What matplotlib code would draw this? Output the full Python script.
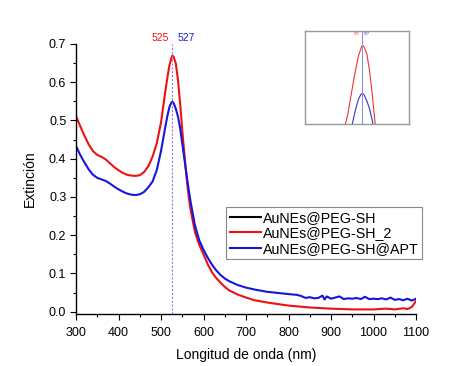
import matplotlib
matplotlib.use("Agg")
import matplotlib.pyplot as plt
from matplotlib.ticker import MultipleLocator

plt.rcParams['font.family'] = ['Liberation Sans', 'DejaVu Sans']

# ---- data ----
wl_red = [300, 310, 320, 330, 340, 350, 360, 370, 380, 390, 400, 410, 420, 430, 440,
          450, 460, 470, 480, 490, 500, 510, 515, 520, 525, 527, 530, 535, 540, 545,
          550, 555, 560, 565, 570, 580, 590, 600, 610, 620, 630, 640, 650, 660, 680,
          700, 720, 750, 800, 850, 900, 950, 1000, 1030, 1050, 1070, 1080, 1090, 1095, 1100]
ext_red = [0.511, 0.485, 0.460, 0.437, 0.420, 0.410, 0.405, 0.398, 0.388, 0.378, 0.370,
           0.363, 0.358, 0.356, 0.355, 0.357, 0.365, 0.380, 0.405, 0.440, 0.495, 0.575,
           0.612, 0.645, 0.665, 0.670, 0.666, 0.648, 0.605, 0.545, 0.475, 0.412, 0.352,
           0.302, 0.264, 0.208, 0.175, 0.150, 0.124, 0.103, 0.088, 0.076, 0.065, 0.056,
           0.045, 0.037, 0.030, 0.024, 0.016, 0.011, 0.008, 0.006, 0.006, 0.008, 0.006,
           0.009, 0.007, 0.012, 0.020, 0.028]

wl_blue = [300, 310, 320, 330, 340, 350, 360, 370, 380, 390, 400, 410, 420, 430, 440,
           450, 460, 470, 480, 490, 500, 510, 515, 520, 525, 527, 530, 535, 540, 545,
           550, 555, 560, 565, 570, 580, 590, 600, 610, 620, 630, 640, 650, 660, 680,
           700, 720, 750, 800, 820, 830, 840, 850, 860, 870, 880, 885, 890, 900, 910,
           920, 930, 940, 950, 960, 970, 980, 990, 1000, 1010, 1020, 1030, 1040, 1050,
           1060, 1070, 1080, 1090, 1100]
ext_blue = [0.433, 0.410, 0.390, 0.372, 0.358, 0.350, 0.346, 0.342, 0.335, 0.327, 0.320,
            0.314, 0.309, 0.306, 0.305, 0.307, 0.313, 0.325, 0.340, 0.370, 0.420, 0.482,
            0.512, 0.536, 0.548, 0.549, 0.545, 0.530, 0.510, 0.480, 0.440, 0.400, 0.360,
            0.320, 0.285, 0.225, 0.187, 0.162, 0.141, 0.123, 0.108, 0.096, 0.087, 0.080,
            0.070, 0.063, 0.058, 0.052, 0.046, 0.044, 0.041, 0.036, 0.038, 0.035, 0.036,
            0.042, 0.032, 0.040, 0.034, 0.037, 0.040, 0.033, 0.035, 0.034, 0.036, 0.033,
            0.039, 0.033, 0.034, 0.033, 0.035, 0.032, 0.037, 0.031, 0.033, 0.030, 0.034,
            0.029, 0.034]

series_labels = ['AuNEs@PEG-SH', 'AuNEs@PEG-SH_2', 'AuNEs@PEG-SH@APT']
peak_red = 525
peak_blue = 527
peak_line = 526

# ---- figure ----
fig = plt.figure(figsize=(4.58, 3.66), dpi=100)
ax = fig.add_axes([76/458, 1-314/366, 340/458, 270/366])

ax.plot([], [], color='black', lw=1.5, label=series_labels[0])
ax.plot(wl_red, ext_red, color='#ee1111', lw=1.5, label=series_labels[1])
ax.plot(wl_blue, ext_blue, color='#1515dd', lw=1.5, label=series_labels[2])
ax.axvline(peak_line, color='#9977dd', lw=0.8, ls=(0, (2, 1.5)))

ax.set_xlim(300, 1100)
ax.set_ylim(-0.006, 0.7)
ax.xaxis.set_major_locator(MultipleLocator(100))
ax.xaxis.set_minor_locator(MultipleLocator(50))
ax.yaxis.set_major_locator(MultipleLocator(0.1))
ax.yaxis.set_minor_locator(MultipleLocator(0.05))
ax.yaxis.set_major_formatter(matplotlib.ticker.FormatStrFormatter('%.1f'))
ax.tick_params(which='major', direction='out', length=4, width=0.8, labelsize=9,
               pad=3)
ax.tick_params(axis='x', which='major', pad=5)
ax.tick_params(which='minor', direction='out', length=2, width=0.8)
for s in ['top', 'right']:
    ax.spines[s].set_visible(False)
ax.spines['left'].set_linewidth(1.0)
ax.spines['bottom'].set_linewidth(1.0)

ax.set_xlabel('Longitud de onda (nm)', fontsize=10, labelpad=7)
ax.set_ylabel('Extinción', fontsize=10, labelpad=9)

ax.text(498, 0.703, str(peak_red), color='#ee1111', fontsize=7.5,
        ha='center', va='bottom')
ax.text(559, 0.703, str(peak_blue), color='#2222cc', fontsize=7.5,
        ha='center', va='bottom')

leg = ax.legend(loc='upper left', bbox_to_anchor=(0.441, 0.395), fontsize=10.3,
                frameon=True, fancybox=False, edgecolor='#888888', framealpha=1,
                borderpad=0.25, handlelength=2.2, handletextpad=0.15,
                labelspacing=0.1, borderaxespad=0)
leg.get_frame().set_linewidth(0.8)

# ---- inset ----
ins = fig.add_axes([305/458, 1-124/366, 104/458, 93/366])
ins.plot(wl_red, ext_red, color='#ee3333', lw=0.8)
ins.plot(wl_blue, ext_blue, color='#3333cc', lw=0.8)
ins.axvline(peak_line, color='#8888ee', lw=0.7)
ins.set_xlim(422, 612)
ins.set_ylim(0.472, 0.706)
ins.set_xticks([])
ins.set_yticks([])
for s in ins.spines.values():
    s.set_color('#999999')
    s.set_linewidth(1.0)
ins.text(peak_line - 3, 0.703, str(peak_red), color='#ee3333', fontsize=2.5,
         ha='right', va='top')
ins.text(peak_line + 3, 0.703, str(peak_blue), color='#3333cc', fontsize=2.5,
         ha='left', va='top')

fig.savefig('out.png', dpi=100)
